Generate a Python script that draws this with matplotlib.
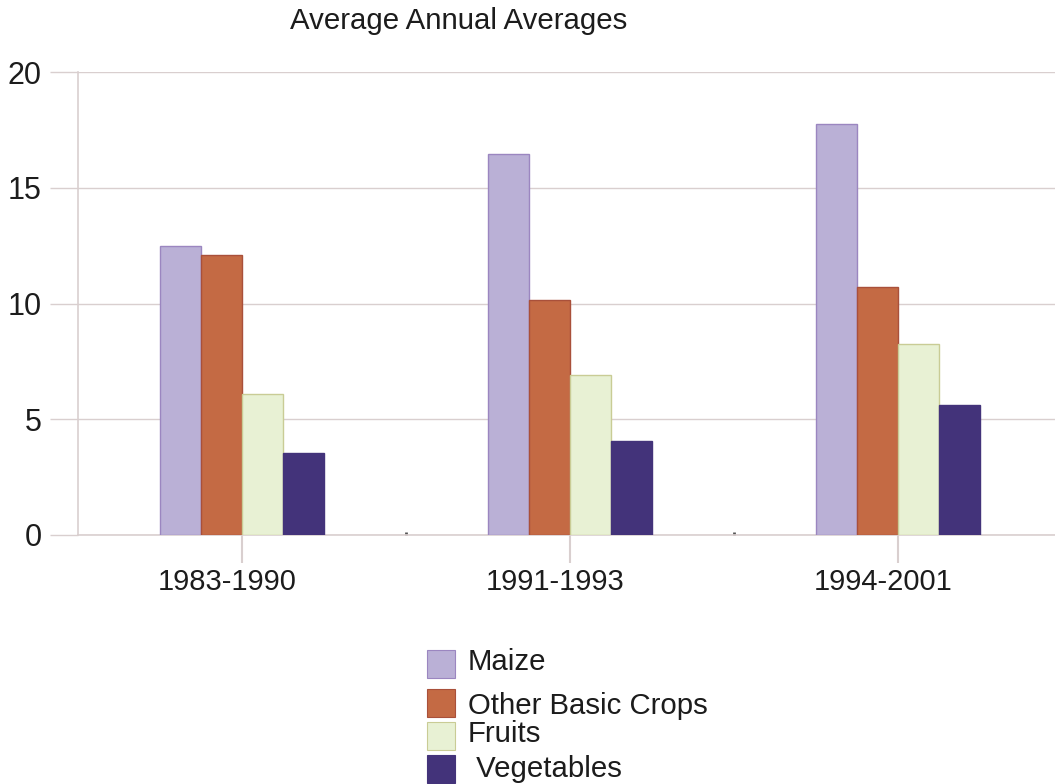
import matplotlib
matplotlib.use("Agg")
import matplotlib.pyplot as plt
import matplotlib.transforms as mtransforms
from matplotlib.patches import Rectangle
import numpy as np

plt.rcParams['font.family'] = ['Liberation Sans', 'DejaVu Sans']

periods = ["1983-1990", "1991-1993", "1994-2001"]
series_names = ["Maize", "Other Basic Crops", "Fruits", " Vegetables"]
maize = [12.5, 16.45, 17.75]
other_crops = [12.1, 10.15, 10.7]
fruits = [6.1, 6.9, 8.25]
vegetables = [3.55, 4.05, 5.6]

face_colors = ["#bab0d6", "#c46a44", "#e8f1d4", "#43337a"]
edge_colors = ["#9b86c0", "#a9503a", "#c9cc95", "#43337a"]
grid_color = "#d9cfcf"
text_color = "#1c1c1c"

fig = plt.figure(figsize=(10.55, 7.84), dpi=100)
ax = fig.add_axes([78 / 1055, 249 / 784, 984 / 1055, 463 / 784])

x = np.arange(len(periods))
width = 0.125
all_series = [maize, other_crops, fruits, vegetables]
for i, vals in enumerate(all_series):
    ax.bar(x + (i - 1.5) * width, vals, width, color=face_colors[i],
           edgecolor=edge_colors[i], linewidth=1, zorder=3)

ax.set_xlim(-0.5, 2.5)
ax.set_ylim(0, 20)
ax.set_yticks([0, 5, 10, 15, 20])
ax.yaxis.grid(True, color=grid_color, linewidth=1, zorder=0)
ax.set_xticks(x)
ax.set_xticklabels(periods, fontsize=21, color=text_color)
ax.set_xticks([0.5, 1.5], minor=True)
ax.tick_params(axis="x", which="major", length=20, color=grid_color, width=1.5, pad=4)
ax.tick_params(axis="x", which="minor", length=2, color="#555555", width=2, direction="in")
ax.tick_params(axis="y", length=20, color=grid_color, width=1, pad=6,
               labelsize=22, labelcolor=text_color)

# the category labels sit a little left of their ticks in the original
shift = mtransforms.ScaledTranslation(-15 / 100, 0, fig.dpi_scale_trans)
for lbl in ax.get_xticklabels():
    lbl.set_transform(lbl.get_transform() + shift)

for side in ["top", "right"]:
    ax.spines[side].set_visible(False)
ax.spines["left"].set_color(grid_color)
ax.spines["bottom"].set_color(grid_color)
ax.spines["left"].set_linewidth(1.2)
ax.spines["bottom"].set_linewidth(1.2)

fig.text(459 / 1055, 1 - 21 / 784, "Average Annual Averages", fontsize=21.2,
         ha="center", va="center", color=text_color)

# legend, built by hand because the row spacing is uneven
row_y = [664, 703, 736, 769]
label_y = [662, 706, 734, 769]
for i, name in enumerate(series_names):
    fig.add_artist(Rectangle((427 / 1055, 1 - (row_y[i] + 14) / 784), 28 / 1055, 28 / 784,
                             facecolor=face_colors[i], edgecolor=edge_colors[i],
                             linewidth=0.8, transform=fig.transFigure))
    fig.text(468 / 1055, 1 - label_y[i] / 784, name, fontsize=21.2,
             ha="left", va="center", color=text_color)

fig.savefig("out.png", dpi=100)
